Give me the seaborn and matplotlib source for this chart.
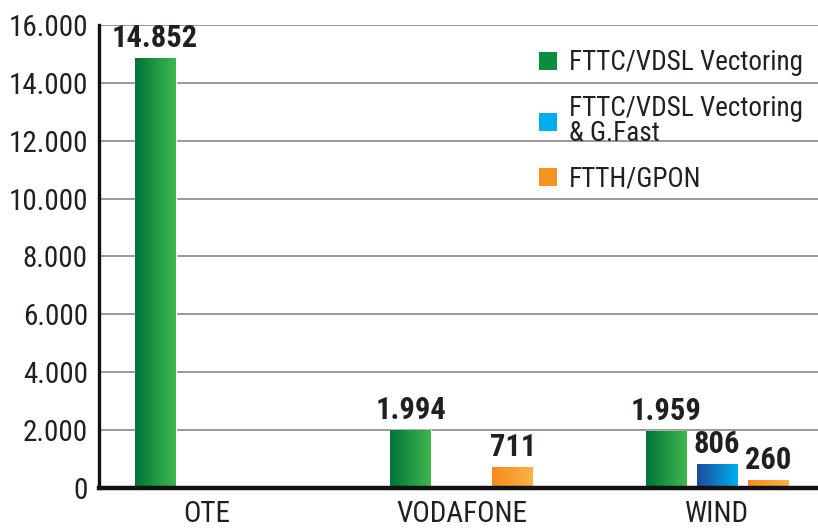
"""
Recreates the grouped bar chart of lines per provider and technology.
Bars get a horizontal gradient (dark -> light), as in the reference.
"""
import numpy as np
import pandas as pd
import matplotlib
matplotlib.use("Agg")
import matplotlib.pyplot as plt
from matplotlib import font_manager
from matplotlib.colors import LinearSegmentedColormap
from matplotlib.patches import Patch
import seaborn as sns

# --- data ---
companies = ["OTE", "VODAFONE", "WIND"]
technologies = ["FTTC/VDSL Vectoring", "FTTC/VDSL Vectoring\n& G.Fast", "FTTH/GPON"]
fttc_vdsl = [14852, 1994, 1959]
fttc_gfast = [np.nan, np.nan, 806]
ftth_gpon = [np.nan, 711, 260]
y_ticks = [0, 2000, 4000, 6000, 8000, 10000, 12000, 14000, 16000]

# colours: (dark, light) for the gradient, plus a flat one for the legend
grad_colors = [("#00733a", "#3fb94d"), ("#1c4a9c", "#00b0f0"), ("#f58a1f", "#fbb347")]
legend_colors = ["#0a8d3d", "#00aeef", "#f7941d"]
text_color = "#231f20"


def fmt(v):
    return f"{v:,.0f}".replace(",", ".")


def pick_font():
    # the original uses a condensed face; take the narrowest one installed
    installed = {f.name for f in font_manager.fontManager.ttflist}
    for name in ["Liberation Sans Narrow", "Roboto Condensed", "Open Sans Condensed",
                 "Noto Sans Condensed", "DejaVu Sans Condensed", "Roboto"]:
        if name in installed:
            return name
    return "DejaVu Sans"


def main():
    rows = []
    for tech, vals in zip(technologies, [fttc_vdsl, fttc_gfast, ftth_gpon]):
        for comp, v in zip(companies, vals):
            if not np.isnan(v):
                rows.append({"company": comp, "tech": tech, "lines": v})
    df = pd.DataFrame(rows)

    sns.set_theme(style="white")
    font = pick_font()
    plt.rcParams["font.family"] = [font, "DejaVu Sans"]
    plt.rcParams["font.stretch"] = "condensed"
    plt.rcParams["text.color"] = text_color

    fig = plt.figure(figsize=(8.18, 5.31), dpi=100)
    ax = fig.add_axes([0.121, 0.081, 0.879, 0.872])

    sns.barplot(data=df, x="company", y="lines", hue="tech",
                order=companies, hue_order=technologies,
                palette=legend_colors, width=0.6, gap=0.2,
                legend=False, ax=ax)

    # replace each flat bar by a horizontal gradient image
    for container, (dark, light) in zip(ax.containers, grad_colors):
        cmap = LinearSegmentedColormap.from_list("g", [dark, light])
        for rect in container:
            x0, y0 = rect.get_x(), rect.get_y()
            w, h = rect.get_width(), rect.get_height()
            grad = np.linspace(0, 1, 256).reshape(1, -1)
            ax.imshow(grad, extent=[x0, x0 + w, y0, y0 + h], aspect="auto",
                      cmap=cmap, zorder=2, interpolation="bicubic")
            rect.set_facecolor("none")
        ax.bar_label(container, labels=[fmt(r.get_height()) for r in container],
                     padding=4, fontsize=22, fontweight="bold", color=text_color)

    ax.set_xlim(-0.42, 2.395)
    ax.set_ylim(0, 16000)
    ax.set_yticks(y_ticks)
    ax.set_yticklabels([fmt(t) for t in y_ticks])
    ax.set_xlabel("")
    ax.set_ylabel("")
    ax.tick_params(axis="both", length=0, labelsize=21, colors=text_color)
    ax.tick_params(axis="y", pad=8)
    ax.tick_params(axis="x", pad=9)

    ax.yaxis.grid(True, color="#9a9a9a", linewidth=1.4)
    ax.set_axisbelow(True)
    for side in ["top", "right"]:
        ax.spines[side].set_visible(False)
    ax.spines["bottom"].set_color("#111111")
    ax.spines["bottom"].set_linewidth(3.2)
    ax.spines["left"].set_color("#111111")
    ax.spines["left"].set_linewidth(2.4)

    handles = [Patch(facecolor=c, edgecolor="none") for c in legend_colors]
    leg = ax.legend(handles, technologies, loc="upper right",
                    bbox_to_anchor=(1.0, 0.98), frameon=False, fontsize=19.5,
                    handlelength=0.65, handleheight=0.65, handletextpad=0.45,
                    labelspacing=0.7, borderaxespad=0.15)
    for t in leg.get_texts():
        t.set_linespacing(0.88)

    fig.savefig("out.png", dpi=100)
    plt.close(fig)


if __name__ == "__main__":
    main()
